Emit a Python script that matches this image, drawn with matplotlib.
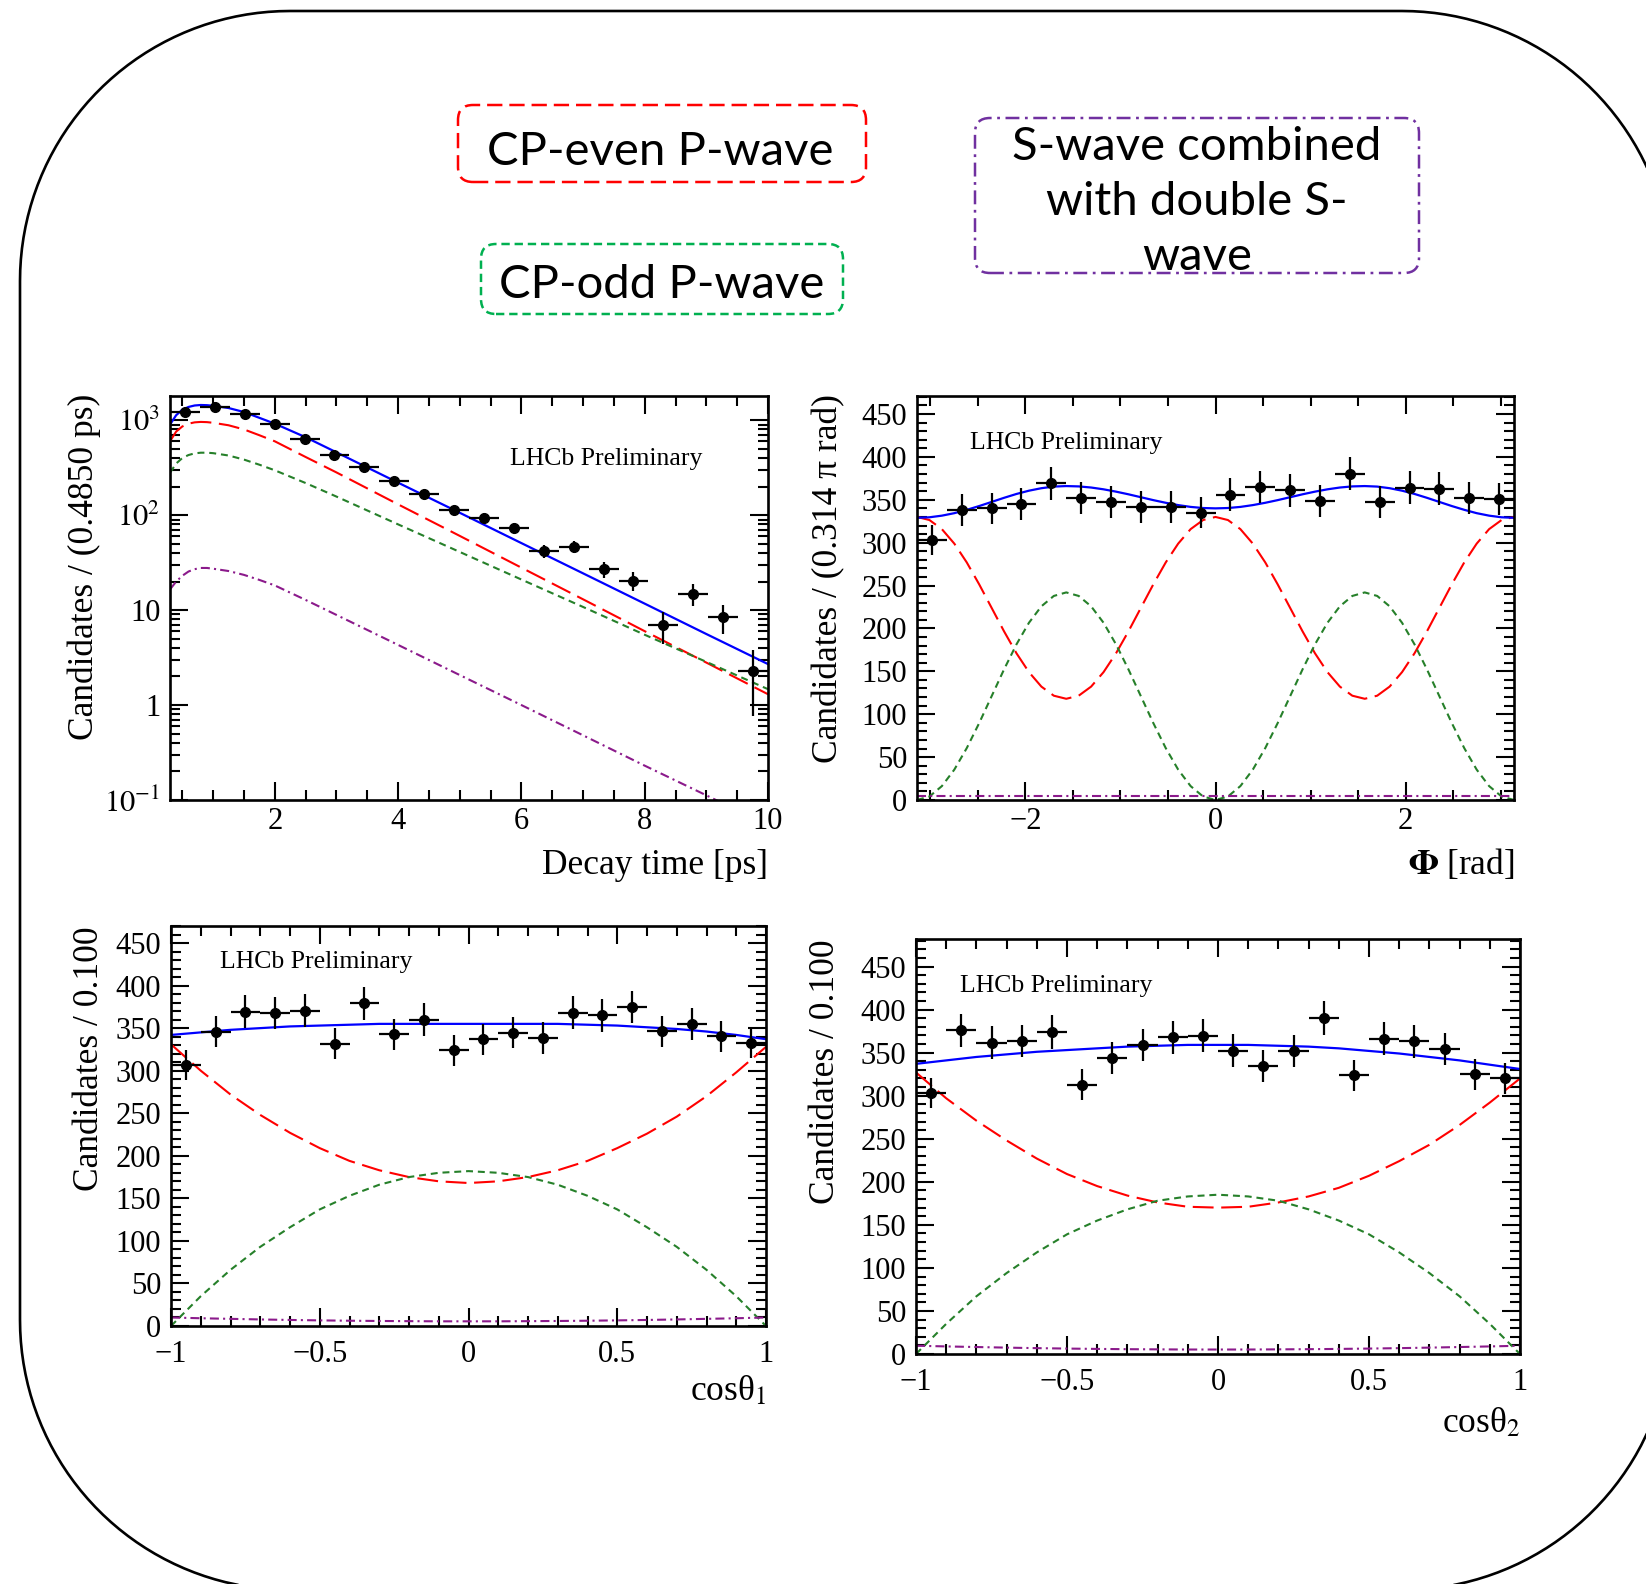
import numpy as np
import matplotlib
matplotlib.use('Agg')
import matplotlib.pyplot as plt
from matplotlib.patches import FancyBboxPatch, PathPatch
from matplotlib.path import Path
from matplotlib.transforms import IdentityTransform
from matplotlib.ticker import MultipleLocator, FixedLocator, FixedFormatter, LogLocator, NullFormatter, FuncFormatter

W, H = 1646, 1584

# ---- decay time panel ----
t_edges = np.linspace(0.3, 10.0, 21)
t_counts = [1213, 1368, 1165, 923, 628, 427, 325, 230, 169, 113, 94.5, 73.6, 42.3, 46.6, 26.9, 20.5, 7.0, 14.8, 8.45, 2.28]
t_grid = [0.3, 0.4, 0.5, 0.6, 0.7, 0.8, 0.9, 1.0, 1.25, 1.5, 1.75, 2.0, 2.5, 3, 4, 5, 6, 7, 8, 9, 10]
t_total = [900, 1130, 1290, 1380, 1430, 1447, 1440, 1420, 1345, 1220, 1060, 920, 662, 459, 220, 106, 50.8, 24.4, 11.7, 5.6, 2.7]
t_even = [600, 760, 860, 920, 950, 960, 955, 940, 885, 800, 695, 600, 410, 282, 130, 60.5, 28, 13, 6.0, 2.8, 1.3]
t_odd = [280, 350, 400, 430, 448, 455, 455, 450, 425, 385, 340, 297, 218, 157, 80, 41, 21, 10.8, 5.5, 2.85, 1.47]
t_swave = [16.5, 20, 23, 25.5, 27, 27.8, 27.8, 27.3, 25.8, 23.5, 20.8, 18.2, 12.8, 8.9, 4.3, 2.07, 1.0, 0.48, 0.23, 0.112, 0.054]

# ---- Phi panel ----
phi_edges = np.linspace(-np.pi, np.pi, 21)
phi_counts = [303, 338, 340, 345.5, 369, 352, 347, 342, 342, 335, 356, 365, 361, 349, 380.6, 347, 364, 363, 352.5, 350.6]
phi_grid = np.linspace(-np.pi, np.pi, 49)
phi_total = [329, 329.6, 331.5, 334.4, 338.3, 342.7, 347.5, 352.3, 356.8, 360.6, 363.5, 365.4, 366,
             365.6, 364.3, 362.2, 359.5, 356.4, 353, 349.6, 346.5, 343.8, 341.7, 340.4, 340,
             340.4, 341.7, 343.8, 346.5, 349.6, 353, 356.4, 359.5, 362.2, 364.3, 365.6, 366,
             365.4, 363.5, 360.6, 356.8, 352.3, 347.5, 342.7, 338.3, 334.4, 331.5, 329.6, 329]
phi_even = [330, 326.4, 315.8, 298.9, 277, 251.4, 224, 196.6, 171, 149.1, 132.2, 121.6, 118,
            121.6, 132.2, 149.1, 171, 196.6, 224, 251.4, 277, 298.9, 315.8, 326.4, 330,
            326.4, 315.8, 298.9, 277, 251.4, 224, 196.6, 171, 149.1, 132.2, 121.6, 118,
            121.6, 132.2, 149.1, 171, 196.6, 224, 251.4, 277, 298.9, 315.8, 326.4, 330]
phi_odd = [0, 4.1, 16.2, 35.4, 60.5, 89.7, 121, 152.3, 181.5, 206.6, 225.8, 237.9, 242,
           237.9, 225.8, 206.6, 181.5, 152.3, 121, 89.7, 60.5, 35.4, 16.2, 4.1, 0,
           4.1, 16.2, 35.4, 60.5, 89.7, 121, 152.3, 181.5, 206.6, 225.8, 237.9, 242,
           237.9, 225.8, 206.6, 181.5, 152.3, 121, 89.7, 60.5, 35.4, 16.2, 4.1, 0]
phi_swave = [5] * 49

# ---- cos theta panels ----
cos_edges = np.linspace(-1, 1, 21)
cos_grid = np.linspace(-1, 1, 21)
c1_counts = [306.7, 345.9, 369.3, 367.8, 370.5, 331.8, 379.1, 342.7, 360, 324, 336.9, 344.7, 338.4, 368.2, 365, 374.8, 346.2, 355.2, 340.4, 333]
c1_total = [342, 345, 348, 350, 352, 353, 354, 355, 355, 355, 355, 355, 355, 355, 354, 353, 351, 349, 346, 342, 337]
c1_even = [331, 300, 272, 248, 227, 209, 194, 183, 175, 170, 168, 170, 175, 183, 194, 209, 226, 246, 270, 298, 328]
c1_odd = [0, 35, 66, 93, 116, 137, 153, 166, 175, 180, 182, 180, 175, 166, 153, 137, 116, 93, 66, 35, 0]
c1_swave = [10, 9.1, 8.4, 7.7, 7.1, 6.6, 6.2, 5.9, 5.7, 5.5, 5.5, 5.5, 5.7, 5.9, 6.2, 6.6, 7.1, 7.7, 8.4, 9.1, 10]

c2_counts = [303.6, 376, 361.6, 363.6, 374, 313, 343.6, 359, 368, 369.6, 352.4, 334.4, 352, 390.4, 324, 366.4, 363.2, 354, 324.8, 320]
c2_total = [337, 341, 345, 348, 351, 353, 355, 357, 358, 359, 359, 359, 358, 357, 355, 352, 349, 345, 341, 336, 331]
c2_even = [327, 297, 271, 248, 227, 209, 195, 184, 176, 171, 170, 171, 176, 183, 193, 207, 224, 243, 266, 292, 320]
c2_odd = [0, 35, 67, 94, 118, 139, 155, 168, 178, 183, 185, 183, 178, 168, 155, 139, 118, 94, 67, 35, 0]
c2_swave = [9.6, 8.8, 8.1, 7.4, 6.8, 6.3, 5.9, 5.6, 5.4, 5.2, 5.2, 5.2, 5.4, 5.6, 5.9, 6.3, 6.8, 7.4, 8.1, 8.8, 9.6]

plt.rcParams['font.family'] = ['Liberation Serif', 'DejaVu Serif']
plt.rcParams['mathtext.fontset'] = 'stix'
plt.rcParams['lines.scale_dashes'] = False

fig = plt.figure(figsize=(W / 100, H / 100), dpi=100)


def px(x, y):
    return x / W, 1 - y / H


def add_ax(l, t, r, b):
    return fig.add_axes([l / W, 1 - b / H, (r - l) / W, (b - t) / H])


def minus(v, pos):
    return ('%g' % v).replace('-', '\u2212')


def style(ax):
    for s in ax.spines.values():
        s.set_linewidth(1.9)
    ax.tick_params(which='both', direction='in', top=True, right=True, width=1.5, labelsize=22)
    ax.tick_params(which='major', length=13)
    ax.tick_params(which='minor', length=7)
    ax.tick_params(axis='x', pad=5)
    ax.tick_params(axis='y', pad=7)


def draw(ax, edges, counts, grid, total, even, odd, swave):
    edges = np.asarray(edges)
    xc = 0.5 * (edges[1:] + edges[:-1])
    hw = 0.5 * (edges[1:] - edges[:-1])
    counts = np.asarray(counts)
    ax.plot(grid, even, color='#ff0000', lw=1.5, dashes=(15, 5.5))
    ax.plot(grid, odd, color='#26802a', lw=1.5, dashes=(5, 3.5))
    ax.plot(grid, swave, color='#8b1a8b', lw=1.5, dashes=(6.5, 3, 1.5, 3))
    ax.plot(grid, total, color='#0000ff', lw=1.6)
    ax.errorbar(xc, counts, yerr=np.sqrt(counts), xerr=hw, fmt='o', color='k',
                ms=7, elinewidth=1.6, capsize=0, zorder=4)


# panel 1: decay time
ax1 = add_ax(170, 396, 768, 800)
draw(ax1, t_edges, t_counts, t_grid, t_total, t_even, t_odd, t_swave)
ax1.set_yscale('log')
ax1.set_xlim(0.3, 10)
ax1.set_ylim(0.1, 1800)
style(ax1)
ax1.yaxis.set_major_locator(FixedLocator([0.1, 1, 10, 100, 1000]))
ax1.yaxis.set_major_formatter(FixedFormatter([r'$10^{-1}$', '1', '10', r'$10^{2}$', r'$10^{3}$']))
ax1.yaxis.set_minor_locator(LogLocator(base=10, subs=np.arange(2, 10)))
ax1.yaxis.set_minor_formatter(NullFormatter())
ax1.xaxis.set_major_locator(MultipleLocator(2))
ax1.xaxis.set_minor_locator(MultipleLocator(0.5))
ax1.xaxis.set_major_formatter(FuncFormatter(minus))

# panel 2: Phi
ax2 = add_ax(917, 396, 1514, 800)
draw(ax2, phi_edges, phi_counts, phi_grid, phi_total, phi_even, phi_odd, phi_swave)
ax2.set_xlim(-np.pi, np.pi)
ax2.set_ylim(0, 471)
style(ax2)
ax2.xaxis.set_major_locator(MultipleLocator(2))
ax2.xaxis.set_minor_locator(MultipleLocator(0.5))
ax2.xaxis.set_major_formatter(FuncFormatter(minus))
ax2.yaxis.set_major_locator(MultipleLocator(50))
ax2.yaxis.set_minor_locator(MultipleLocator(10))

# panel 3: cos theta 1
ax3 = add_ax(171, 926, 766, 1326)
draw(ax3, cos_edges, c1_counts, cos_grid, c1_total, c1_even, c1_odd, c1_swave)
ax3.set_xlim(-1, 1)
ax3.set_ylim(0, 470)

# panel 4: cos theta 2
ax4 = add_ax(916, 939, 1520, 1354)
draw(ax4, cos_edges, c2_counts, cos_grid, c2_total, c2_even, c2_odd, c2_swave)
ax4.set_xlim(-1, 1)
ax4.set_ylim(0, 482)

for ax in (ax3, ax4):
    style(ax)
    ax.xaxis.set_major_locator(MultipleLocator(0.5))
    ax.xaxis.set_minor_locator(MultipleLocator(0.1))
    ax.xaxis.set_major_formatter(FuncFormatter(minus))
    ax.yaxis.set_major_locator(MultipleLocator(50))
    ax.yaxis.set_minor_locator(MultipleLocator(10))
    ax.tick_params(axis='x', pad=10)

# axis titles (ROOT style, aligned to the ends)
lab = dict(fontsize=25.5)
fig.text(*px(84, 394), 'Candidates / (0.4850 ps)', rotation=90, ha='center', va='top', **lab)
fig.text(*px(829, 394), 'Candidates / (0.314 \u03c0 rad)', rotation=90, ha='center', va='top', **lab)
fig.text(*px(89, 926), 'Candidates / 0.100', rotation=90, ha='center', va='top', **lab)
fig.text(*px(826, 939), 'Candidates / 0.100', rotation=90, ha='center', va='top', **lab)
fig.text(*px(768, 874), 'Decay time [ps]', ha='right', va='baseline', **lab)
fig.text(*px(1514, 874), r'$\mathbf{\Phi}$ [rad]', ha='right', va='baseline', **lab)
fig.text(*px(766, 1400), 'cos\u03b8$_{1}$', ha='right', va='baseline', **lab)
fig.text(*px(1520, 1432), 'cos\u03b8$_{2}$', ha='right', va='baseline', **lab)

for (x, y) in [(510, 465), (970, 449), (220, 968), (960, 992)]:
    fig.text(*px(x, y), 'LHCb Preliminary', ha='left', va='baseline', fontsize=18.5)

# legend boxes
ident = IdentityTransform()


def box(l, t, r, b, color, dashes, rad=15):
    p = FancyBboxPatch((l, H - b), r - l, b - t, boxstyle='round,pad=0,rounding_size=%d' % rad,
                       transform=ident, fill=False, edgecolor=color, lw=1.8, linestyle=(0, dashes))
    fig.add_artist(p)


box(458, 105, 866, 182, '#ff0000', (11, 5))
box(481, 244, 843, 314, '#00b050', (6, 3.5))
box(975, 118, 1419, 273, '#7030a0', (10, 4, 2, 4))

bfont = dict(family=['Lato', 'DejaVu Sans'], fontsize=34, ha='center', va='baseline')
fig.text(*px(660, 165), 'CP-even P-wave', **bfont)
fig.text(*px(662, 298), 'CP-odd P-wave', **bfont)
for y, s in [(160, 'S-wave combined'), (215, 'with double S-'), (270, 'wave')]:
    fig.text(*px(1197, y), s, **bfont)


# outer rounded frame, drawn with circular corners in pixel space
def frame_path(l, t, r, b, rad):
    yt, yb = H - t, H - b
    pts = []
    for cx, cy, a0 in [(r - rad, yt - rad, 0), (l + rad, yt - rad, 90),
                       (l + rad, yb + rad, 180), (r - rad, yb + rad, 270)]:
        ang = np.radians(np.linspace(a0, a0 + 90, 40))
        pts += list(zip(cx + rad * np.cos(ang), cy + rad * np.sin(ang)))
    pts.append(pts[0])
    return Path(pts)


fig.add_artist(PathPatch(frame_path(20, 11, 1672, 1590, 270), transform=ident,
                         fill=False, edgecolor='black', lw=1.9))

fig.savefig('out.png', dpi=100)
